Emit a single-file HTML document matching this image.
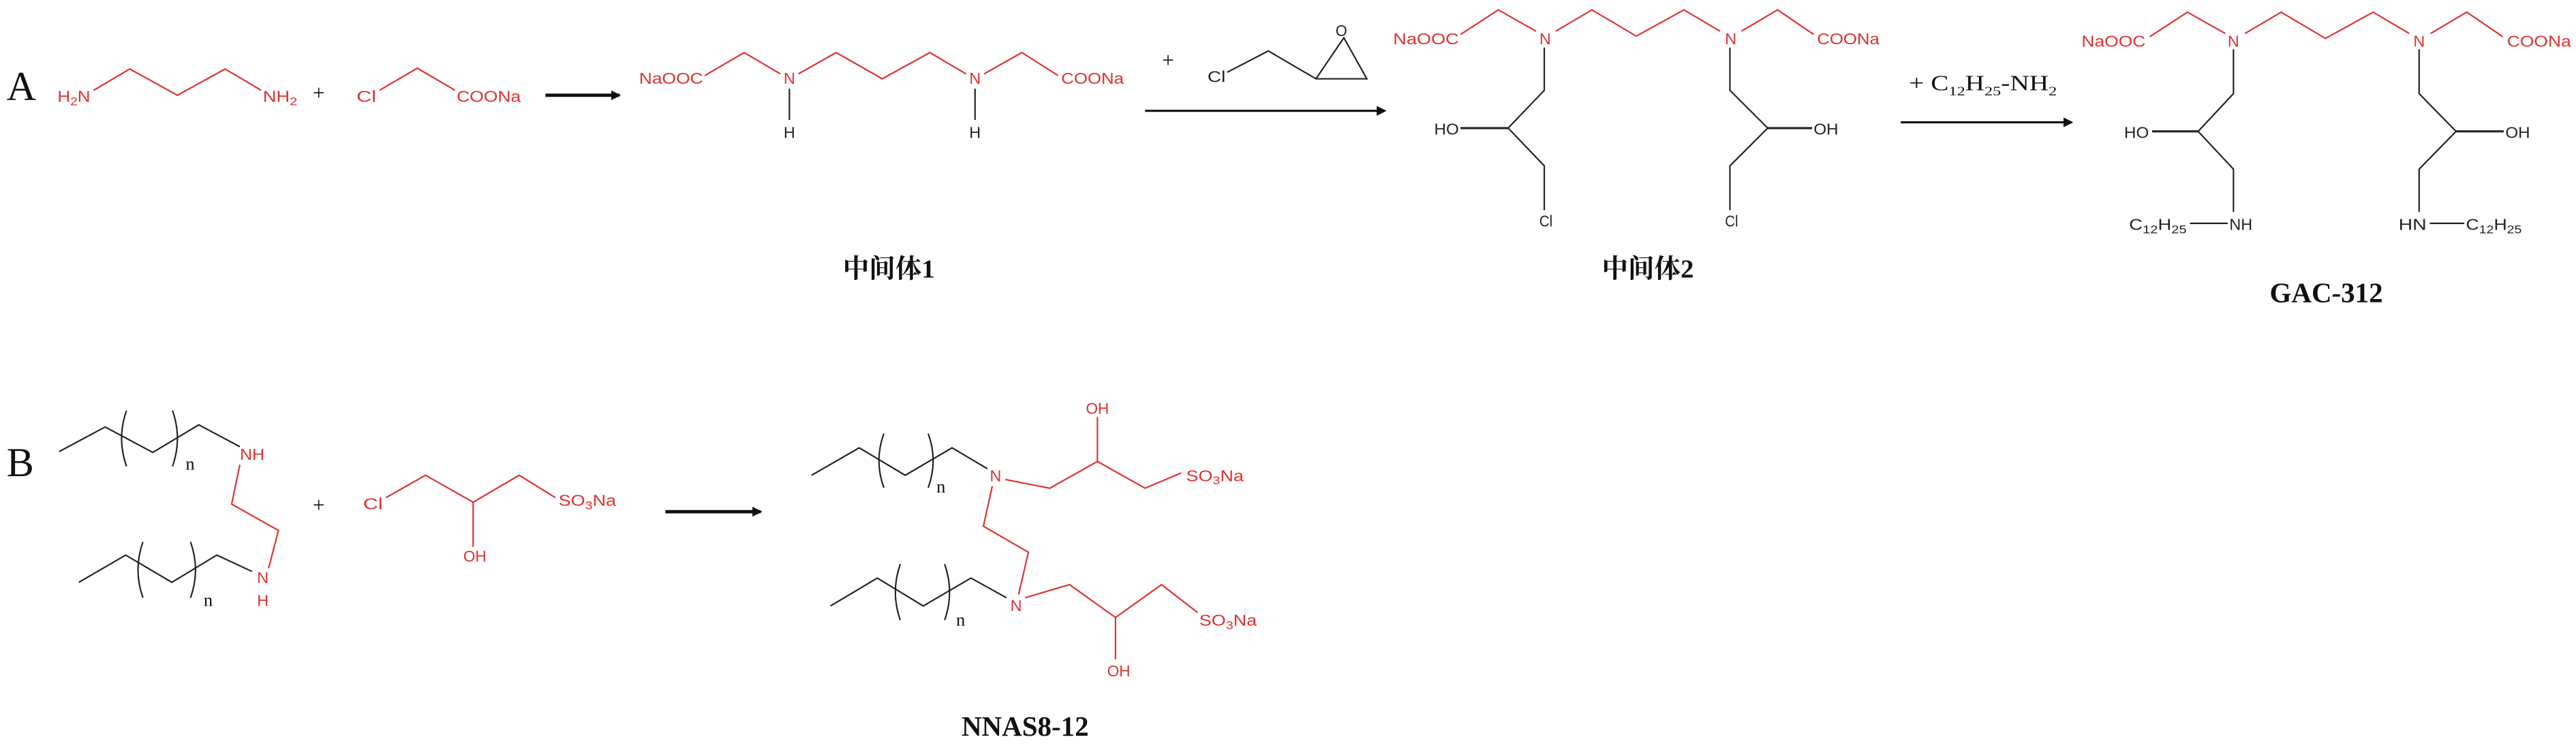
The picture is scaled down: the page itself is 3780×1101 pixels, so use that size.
<!DOCTYPE html>
<html><head><meta charset="utf-8"><style>html,body{margin:0;padding:0;background:#fff}svg{display:block}</style></head><body>
<svg width="3780" height="1101" viewBox="0 0 1568 456.7" preserveAspectRatio="none" xmlns="http://www.w3.org/2000/svg">
<defs><marker id="ah" markerWidth="6" markerHeight="6" refX="5" refY="3" orient="auto" markerUnits="userSpaceOnUse"><path d="M0,0 L6,3 L0,6 Z" fill="#111"/></marker></defs>
<g fill="none" stroke-width="0.9" stroke-linejoin="miter">
<!-- Row A reactants -->
<polyline stroke="#e03030" points="57,55 79,42 108,58 137,42 159,55"/>
<polyline stroke="#e03030" points="231,55 254,41.5 277,55"/>
<line x1="332" y1="58" x2="377" y2="58" stroke="#111" stroke-width="2" marker-end="url(#ah)"/>
<!-- Int1 -->
<polyline stroke="#e03030" points="429,46 453,32 475,45"/>
<polyline stroke="#e03030" points="486,45 509,32 537,48 566,32 588,45"/>
<polyline stroke="#e03030" points="599,45 622,32 644,46"/>
<line x1="480.5" y1="54" x2="480.5" y2="73" stroke="#222"/>
<line x1="593.5" y1="54" x2="593.5" y2="73" stroke="#222"/>
<!-- epoxide -->
<polyline stroke="#222" points="747,44 772,31 801,48 832,48 818,23 801,48"/>
<line x1="697" y1="67.5" x2="843" y2="67.5" stroke="#111" stroke-width="1.3" marker-end="url(#ah)"/>
<!-- Int2 -->
<polyline stroke="#e03030" points="889,21 912,6 935,19"/>
<polyline stroke="#e03030" points="947,19 969,6 996,22 1025,6 1047,19"/>
<polyline stroke="#e03030" points="1060,19 1082,6 1104,21"/>
<polyline stroke="#222" points="940,29 940,55 918,78 940,101 940,128"/>
<line x1="889" y1="78" x2="918" y2="78" stroke="#222" stroke-width="1.3"/>
<polyline stroke="#222" points="1053,29 1053,55 1076,78 1053,101 1053,128"/>
<line x1="1076" y1="78" x2="1103" y2="78" stroke="#222" stroke-width="1.3"/>
<line x1="1157" y1="74.5" x2="1261" y2="74.5" stroke="#111" stroke-width="1.3" marker-end="url(#ah)"/>
<!-- GAC -->
<polyline stroke="#e03030" points="1308.5,22.4 1331.5,7.4 1354.5,20.4"/>
<polyline stroke="#e03030" points="1366.5,20.4 1388.5,7.4 1415.5,23.4 1444.5,7.4 1466.5,20.4"/>
<polyline stroke="#e03030" points="1479.5,20.4 1501.5,7.4 1523.5,22.4"/>
<polyline stroke="#222" points="1359.5,30 1359.5,57 1338,80 1359.5,103 1359.5,129"/>
<line x1="1310" y1="80" x2="1338" y2="80" stroke="#222" stroke-width="1.3"/>
<polyline stroke="#222" points="1472.5,30 1472.5,57 1495,80 1472.5,103 1472.5,129"/>
<line x1="1495" y1="80" x2="1524" y2="80" stroke="#222" stroke-width="1.3"/>
<line x1="1333" y1="136" x2="1356" y2="136" stroke="#222"/>
<line x1="1479" y1="136" x2="1500" y2="136" stroke="#222"/>
<!-- Row B reactants -->
<polyline stroke="#222" points="36,275 64,260 93,275.5 121,258.7 146,272"/>
<path stroke="#222" d="M77,250 Q71,267 77,284 M105,250 Q111,267 105,284"/>
<polyline stroke="#e03030" points="146,283 141,307 169.5,323 163.5,346"/>
<polyline stroke="#222" points="48,354.6 76.5,338 104.6,354.6 132,338 153.4,348"/>
<path stroke="#222" d="M87,330 Q81,347 87,364 M116,330 Q122,347 116,364"/>
<polyline stroke="#e03030" points="235,303 259,289.4 288,305.8 316,289.4 338,303"/>
<line x1="288" y1="305.8" x2="288" y2="333" stroke="#e03030"/>
<line x1="405" y1="311.6" x2="463" y2="311.6" stroke="#111" stroke-width="2" marker-end="url(#ah)"/>
<!-- product B -->
<polyline stroke="#222" points="494,289.4 523,272.7 551,289.4 579.5,272.7 601,285.4"/>
<path stroke="#222" d="M538,264 Q532,280.5 538,297 M565,264 Q571,280.5 565,297"/>
<polyline stroke="#e03030" points="612,292 639,297.3 668,281 697,297.3 719,288"/>
<line x1="668" y1="281" x2="668" y2="254" stroke="#e03030"/>
<polyline stroke="#e03030" points="604,296 598.6,320.4 626,336.3 620,362"/>
<polyline stroke="#222" points="505.5,369 534,352 562,369 591,352 612.7,364"/>
<path stroke="#222" d="M548,343.5 Q542,360.5 548,377.6 M575,343.5 Q581,360.5 575,377.6"/>
<polyline stroke="#e03030" points="624,364 651,356 679,376 707,356 729,373"/>
<line x1="679" y1="376" x2="679" y2="401.5" stroke="#e03030"/>
</g>
<g font-family="'Liberation Sans', sans-serif" font-size="9.5" lengthAdjust="spacingAndGlyphs">
<g fill="#e03030">
<text x="35" y="62" textLength="20" lengthAdjust="spacingAndGlyphs">H<tspan font-size="7" dy="2">2</tspan><tspan dy="-2">N</tspan></text>
<text x="160" y="62" textLength="21" lengthAdjust="spacingAndGlyphs">NH<tspan font-size="7" dy="2">2</tspan></text>
<text x="217" y="62" textLength="12" lengthAdjust="spacingAndGlyphs">Cl</text>
<text x="278" y="62" textLength="39" lengthAdjust="spacingAndGlyphs">COONa</text>
<text x="389" y="51" textLength="39" lengthAdjust="spacingAndGlyphs">NaOOC</text>
<text x="477" y="51" textLength="7" lengthAdjust="spacingAndGlyphs">N</text>
<text x="590" y="51" textLength="7" lengthAdjust="spacingAndGlyphs">N</text>
<text x="646" y="51" textLength="38" lengthAdjust="spacingAndGlyphs">COONa</text>
<text x="848" y="27" textLength="40" lengthAdjust="spacingAndGlyphs">NaOOC</text>
<text x="937" y="27" textLength="7" lengthAdjust="spacingAndGlyphs">N</text>
<text x="1050" y="27" textLength="7" lengthAdjust="spacingAndGlyphs">N</text>
<text x="1106" y="27" textLength="38" lengthAdjust="spacingAndGlyphs">COONa</text>
<text x="1267" y="28.5" textLength="39" lengthAdjust="spacingAndGlyphs">NaOOC</text>
<text x="1356" y="28.5" textLength="7" lengthAdjust="spacingAndGlyphs">N</text>
<text x="1469" y="28.5" textLength="7" lengthAdjust="spacingAndGlyphs">N</text>
<text x="1526" y="28.5" textLength="39" lengthAdjust="spacingAndGlyphs">COONa</text>
<text x="146" y="280" textLength="15" lengthAdjust="spacingAndGlyphs">NH</text>
<text x="156.5" y="355" textLength="7" lengthAdjust="spacingAndGlyphs">N</text>
<text x="156.5" y="369" textLength="7" lengthAdjust="spacingAndGlyphs">H</text>
<text x="221" y="310" textLength="12" lengthAdjust="spacingAndGlyphs">Cl</text>
<text x="340" y="308" textLength="35" lengthAdjust="spacingAndGlyphs">SO<tspan font-size="7" dy="2">3</tspan><tspan dy="-2">Na</tspan></text>
<text x="282" y="342" textLength="14" lengthAdjust="spacingAndGlyphs">OH</text>
<text x="602.5" y="293" textLength="7" lengthAdjust="spacingAndGlyphs">N</text>
<text x="722" y="293" textLength="35" lengthAdjust="spacingAndGlyphs">SO<tspan font-size="7" dy="2">3</tspan><tspan dy="-2">Na</tspan></text>
<text x="661" y="252" textLength="14" lengthAdjust="spacingAndGlyphs">OH</text>
<text x="615" y="372" textLength="7" lengthAdjust="spacingAndGlyphs">N</text>
<text x="730" y="381" textLength="35" lengthAdjust="spacingAndGlyphs">SO<tspan font-size="7" dy="2">3</tspan><tspan dy="-2">Na</tspan></text>
<text x="674" y="412" textLength="14" lengthAdjust="spacingAndGlyphs">OH</text>
</g>
<g fill="#222">
<text x="477" y="84" textLength="7" lengthAdjust="spacingAndGlyphs">H</text>
<text x="590" y="84" textLength="7" lengthAdjust="spacingAndGlyphs">H</text>
<text x="735" y="50" textLength="11" lengthAdjust="spacingAndGlyphs">Cl</text>
<text x="813" y="22" textLength="7" lengthAdjust="spacingAndGlyphs">O</text>
<text x="873" y="82" textLength="15" lengthAdjust="spacingAndGlyphs">HO</text>
<text x="1104" y="82" textLength="15" lengthAdjust="spacingAndGlyphs">OH</text>
<text x="937" y="138" textLength="8" lengthAdjust="spacingAndGlyphs">Cl</text>
<text x="1050" y="138" textLength="8" lengthAdjust="spacingAndGlyphs">Cl</text>
<text x="1293" y="84" textLength="15" lengthAdjust="spacingAndGlyphs">HO</text>
<text x="1525" y="84" textLength="15" lengthAdjust="spacingAndGlyphs">OH</text>
<text x="1296" y="140" textLength="35" lengthAdjust="spacingAndGlyphs">C<tspan font-size="7" dy="2">12</tspan><tspan dy="-2">H</tspan><tspan font-size="7" dy="2">25</tspan></text>
<text x="1357" y="140" textLength="14" lengthAdjust="spacingAndGlyphs">NH</text>
<text x="1460" y="140" textLength="17" lengthAdjust="spacingAndGlyphs">HN</text>
<text x="1501" y="140" textLength="34" lengthAdjust="spacingAndGlyphs">C<tspan font-size="7" dy="2">12</tspan><tspan dy="-2">H</tspan><tspan font-size="7" dy="2">25</tspan></text>
</g>
</g>
<g font-family="'Liberation Serif', serif" fill="#111">
<text x="4" y="61" font-size="25">A</text>
<text x="4" y="290" font-size="25">B</text>
<text x="194" y="61" font-size="13" text-anchor="middle">+</text>
<text x="711" y="41" font-size="13" text-anchor="middle">+</text>
<text x="194" y="312" font-size="13" text-anchor="middle">+</text>
<text x="1162" y="55" font-size="13" textLength="90" lengthAdjust="spacingAndGlyphs">+ C<tspan font-size="8" dy="3">12</tspan><tspan dy="-3">H</tspan><tspan font-size="8" dy="3">25</tspan><tspan dy="-3">-NH</tspan><tspan font-size="8" dy="3">2</tspan></text>
<text x="113" y="286" font-size="11">n</text>
<text x="124" y="369" font-size="11">n</text>
<text x="570" y="300" font-size="11">n</text>
<text x="582" y="381" font-size="11">n</text>
<g font-weight="bold" font-size="16">
<text x="541" y="169" text-anchor="middle" font-family="'Liberation Serif','Noto Serif CJK SC',serif">中间体1</text>
<text x="1003" y="169" text-anchor="middle" font-family="'Liberation Serif','Noto Serif CJK SC',serif">中间体2</text>
<text x="1416" y="184" text-anchor="middle" font-size="17">GAC-312</text>
<text x="624" y="448" text-anchor="middle" font-size="17">NNAS8-12</text>
</g>
</g>
</svg>
</body></html>
